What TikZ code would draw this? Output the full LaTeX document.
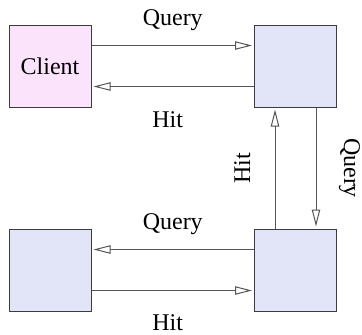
\documentclass[tikz,border=0pt]{standalone}
\usepackage{fontspec}
\setmainfont{Liberation Serif}
\usetikzlibrary{arrows.meta}
\definecolor{clientfill}{RGB}{251,228,251}
\definecolor{cachefill}{RGB}{226,228,248}
\definecolor{boxline}{RGB}{60,60,60}
\definecolor{wireline}{RGB}{85,85,85}
\begin{document}
\begin{tikzpicture}[x=0.5pt,y=0.5pt,
  every node/.style={font=\fontsize{12}{14}\selectfont},
  box/.style={draw=boxline,line width=0.5pt,fill=cachefill,
    minimum size=41pt,inner sep=0pt},
  wire/.style={draw=wireline,line width=0.5pt,shorten >=1pt,
    -{Triangle[open,length=8.5pt,width=4.2pt]}},
  lbl/.style={midway,anchor=base,inner sep=0pt},
  hitlbl/.style={lbl,xshift=-2.5pt}]
% frame of the page
\useasboundingbox (0,0) rectangle (362,334);
% the four boxes
\node[box,fill=clientfill] (client) at (50,268) {Client};
\node[box] (cacheA) at (295.5,268) {};
\node[box] (cacheB) at (295.5,64) {};
\node[box] (cacheC) at (50,64) {};
% client <-> first cache
\draw[wire] ([yshift=10.25pt]client.east) -- ([yshift=10.25pt]cacheA.west)
  node[lbl,yshift=10pt]{Query};
\draw[wire] ([yshift=-10.25pt]cacheA.west) -- ([yshift=-10.25pt]client.east)
  node[hitlbl,yshift=-20.6pt]{Hit};
% first cache <-> second cache
\draw[wire] ([xshift=10.25pt]cacheA.south) -- ([xshift=10.25pt]cacheB.north)
  node[lbl,rotate=-90,yshift=14pt]{Query};
\draw[wire] ([xshift=-10.25pt]cacheB.north) -- ([xshift=-10.25pt]cacheA.south)
  node[hitlbl,rotate=90,yshift=10pt]{Hit};
% second cache <-> third cache
\draw[wire] ([yshift=10.25pt]cacheB.west) -- ([yshift=10.25pt]cacheC.east)
  node[lbl,yshift=10pt]{Query};
\draw[wire] ([yshift=-10.25pt]cacheC.east) -- ([yshift=-10.25pt]cacheB.west)
  node[hitlbl,yshift=-20pt]{Hit};
\end{tikzpicture}
\end{document}
